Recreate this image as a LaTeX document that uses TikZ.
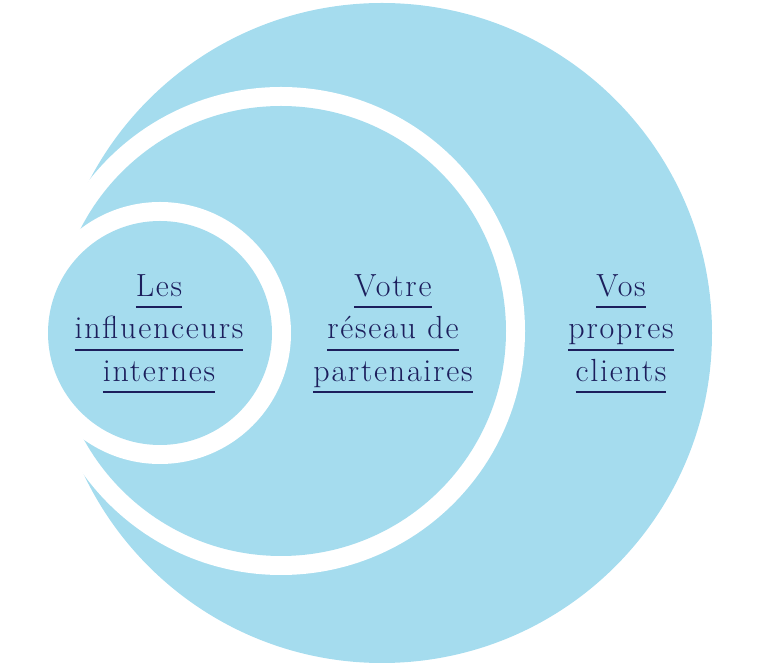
\documentclass[tikz,border=0pt]{standalone}
\usepackage{fontspec}
\usepackage{tikz}
\newfontfamily\ringfont{Latin Modern Roman}[LetterSpace=5.5]
\definecolor{skyfill}{RGB}{165,220,238}
\definecolor{inkblue}{RGB}{28,30,92}
\newcommand\ulline[1]{\setbox0\hbox{#1}\rlap{\rule[-9pt]{\wd0}{1.5pt}}\box0}
\tikzset{
	disc/.style={fill=skyfill, draw=none},
	gap/.style={fill=white, draw=none},
	circletext/.style={align=center, text=inkblue, inner sep=0pt,
		font=\ringfont\fontsize{24}{31.9}\selectfont}
}

\begin{document}
\begin{tikzpicture}[x=0.75pt, y=0.75pt]
			%%%%% START %%%%%
			\useasboundingbox (0, 0) rectangle (768, 671);
			
			% outer circle
			\fill[disc] (382, 338) circle (330);
			
			% middle circle with white ring
			\fill[gap] (281, 340) circle (244);
			\fill[disc] (281, 340) circle (225);
			
			% inner circle with white ring
			\fill[gap] (160, 338) circle (131);
			\fill[disc] (160, 338) circle (112);
			
			\node[circletext] (internes) at (159, 337) {\ulline{Les}\\ \ulline{influenceurs}\\ \ulline{internes}};
			\node[circletext] (partenaires) at (393, 337) {\ulline{Votre}\\ \ulline{réseau de}\\ \ulline{partenaires}};
			\node[circletext] (clients) at (621, 337) {\ulline{Vos}\\ \ulline{propres}\\ \ulline{clients}};
			
			%%%%% END %%%%%
		\end{tikzpicture}
\end{document}
